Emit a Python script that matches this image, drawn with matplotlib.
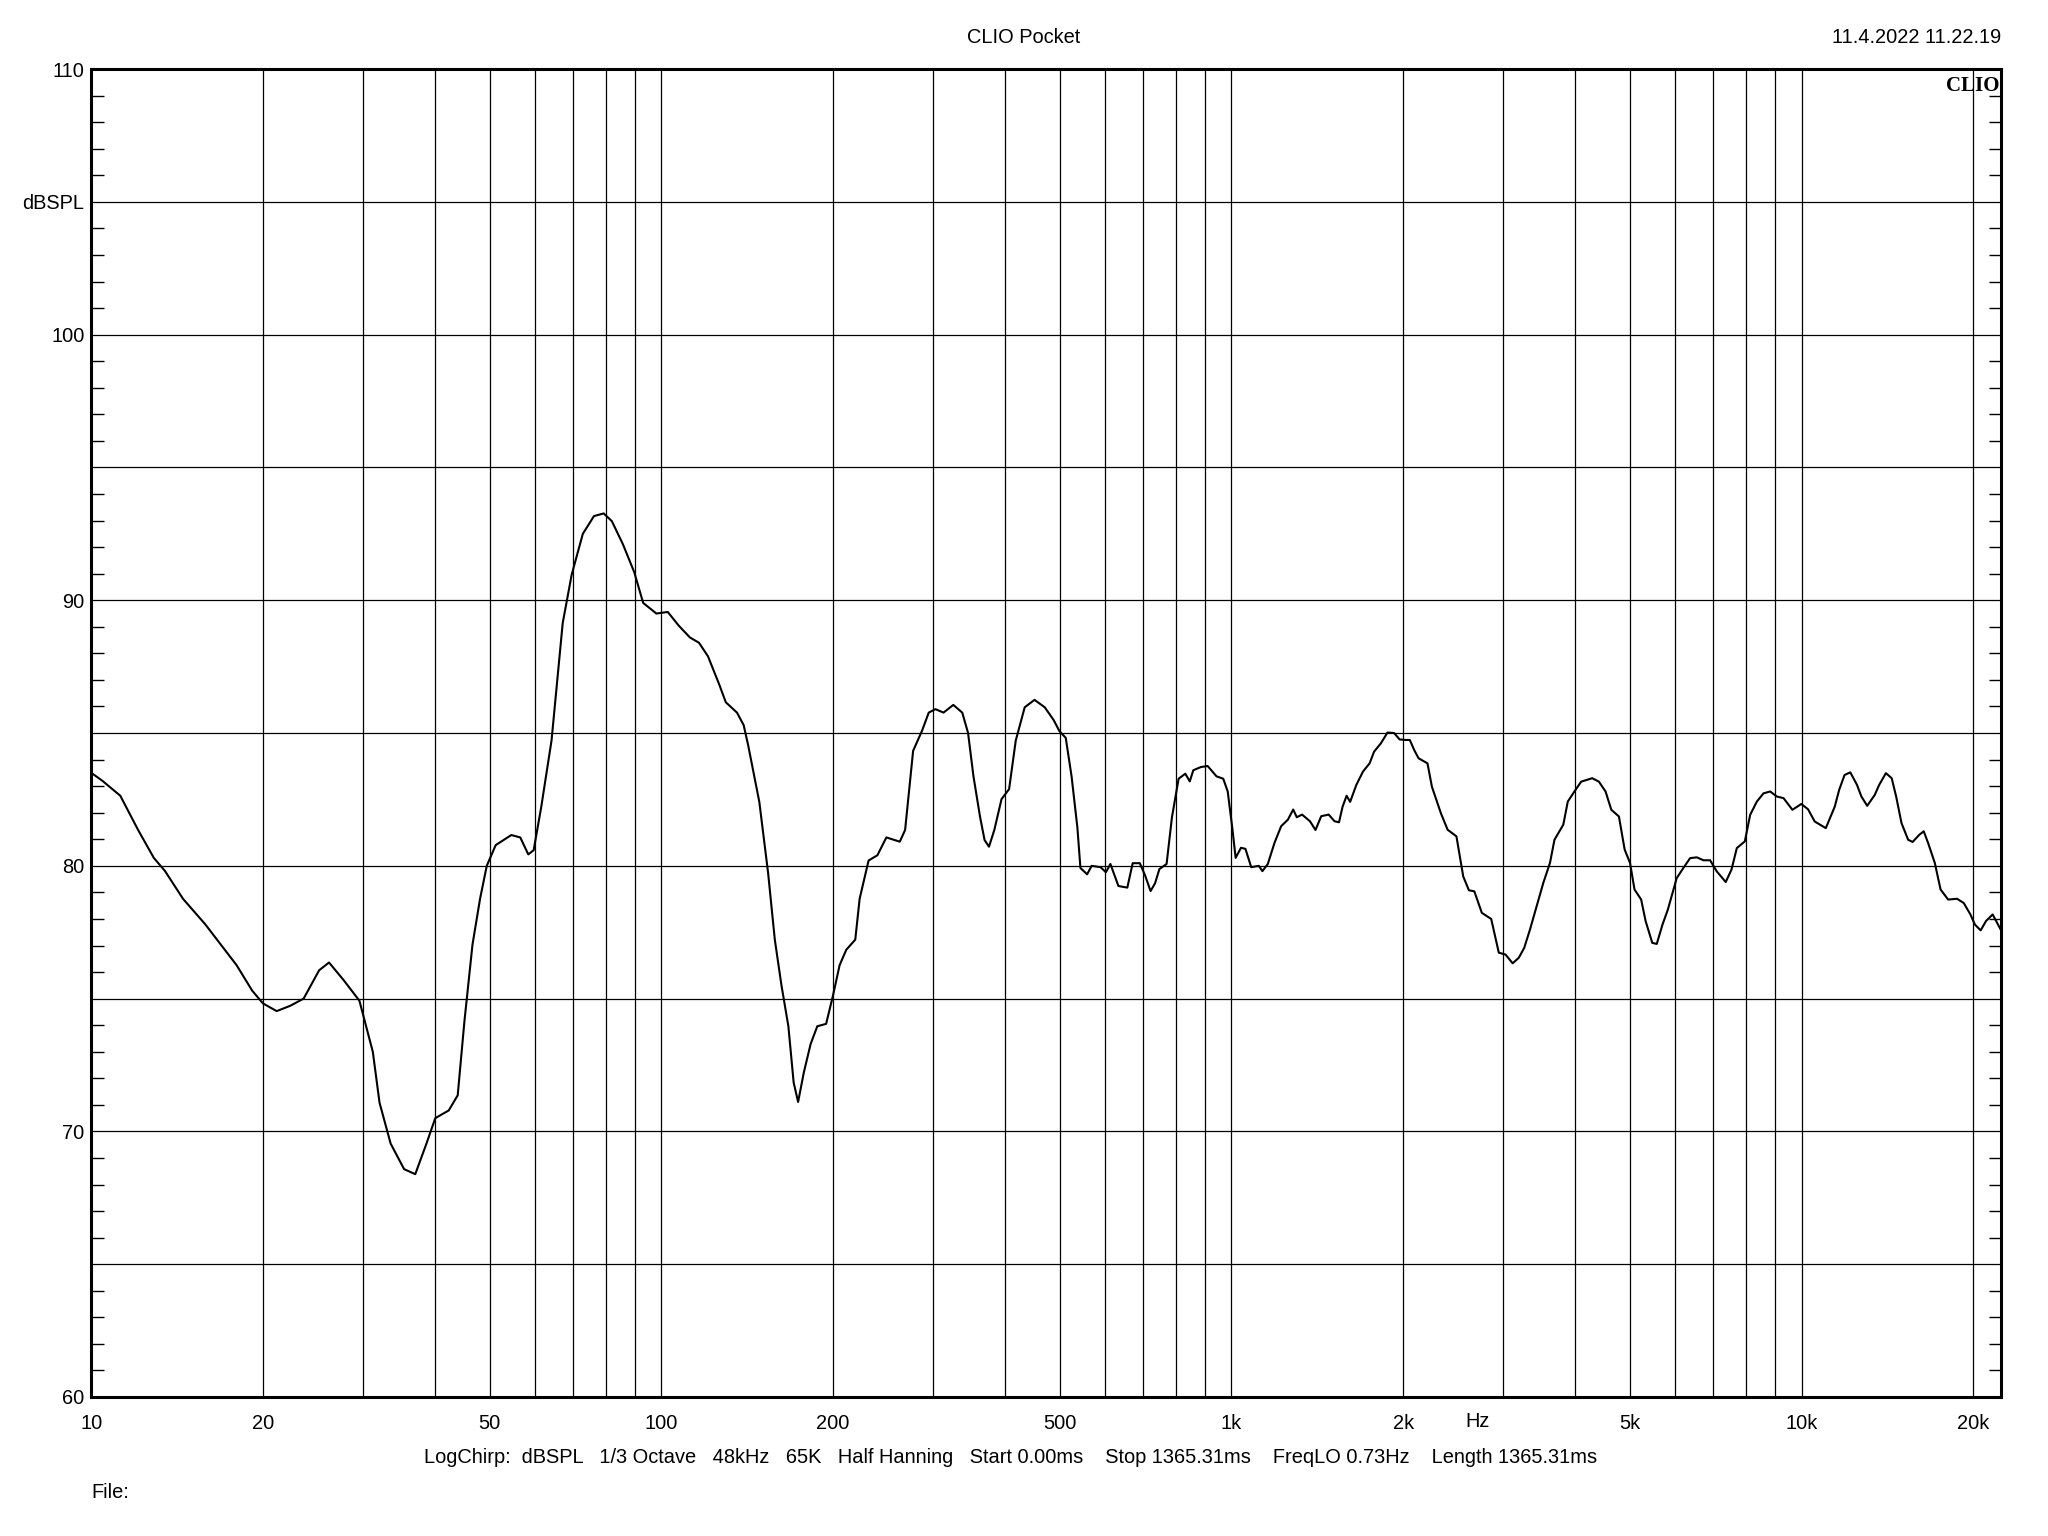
#! /usr/bin/env python

import numpy as np
import matplotlib.pyplot as plt
from matplotlib.ticker import FixedLocator, NullFormatter

freq = [10, 10.46, 11.24, 12.08, 12.87, 13.47, 14.48, 15.84, 16.88, 17.98,
        19.15, 20.0, 21.14, 22.33, 23.57, 25.1, 26.12, 27.72, 29.53, 31.17,
        32.03, 33.5, 35.37, 37.0, 38.71, 40.12, 42.36, 43.92, 45.13, 46.62,
        48.07, 49.39, 51.2, 54.54, 56.55, 58.41, 59.69, 61.55, 64.16, 67.12,
        69.59, 72.8, 76.15, 79.2, 81.85, 85.6, 89.6, 92.9, 98.0, 102.6,
        107.3, 112.2, 116.4, 120.7, 126.3, 129.7, 135.7, 139.4, 142, 148.5,
        153.9, 158.1, 162.4, 167, 170.6, 173.7, 177.8, 182.7, 187.7, 194.5,
        199.9, 205.4, 211, 218.8, 222.7, 230.9, 239.3, 248.1, 261.9, 267.6,
        276.4, 286.7, 294.4, 302.5, 312.5, 325.1, 337.1, 345.1, 352.7, 362.3,
        368.9, 375.5, 383.7, 395, 407.3, 418.4, 433.8, 451.3, 470.4, 487.6,
        499.2, 512, 524.2, 536.6, 543.3, 558.2, 568.4, 589.3, 602.2, 613.2,
        633.4, 656.6, 671, 690.6, 705.7, 721.2, 734.3, 747.5, 769.4, 786.3,
        807.7, 829.8, 845, 857.1, 883.8, 908.1, 941.4, 967.3, 984.9, 1003,
        1017, 1039, 1058, 1083, 1117, 1133, 1158, 1190, 1222, 1256,
        1283, 1302, 1330, 1373, 1404, 1437, 1481, 1516, 1544, 1566,
        1592, 1615, 1656, 1701, 1747, 1779, 1828, 1878, 1929, 1972,
        2018, 2055, 2092, 2129, 2207, 2247, 2330, 2394, 2481, 2550,
        2609, 2667, 2749, 2855, 2944, 3025, 3113, 3192, 3262, 3339,
        3430, 3524, 3620, 3686, 3820, 3890, 3996, 4106, 4294, 4411,
        4531, 4638, 4782, 4895, 5002, 5093, 5232, 5327, 5472, 5572,
        5703, 5827, 6040, 6205, 6375, 6550, 6729, 6912, 7101, 7362,
        7536, 7700, 7952, 8126, 8348, 8576, 8810, 9051, 9298, 9638,
        9991, 10266, 10546, 11030, 11436, 11641, 11896, 12176, 12509, 12735,
        13036, 13440, 13684, 14060, 14393, 14654, 14974, 15383, 15662, 16089,
        16381, 16673, 17130, 17533, 18079, 18741, 19253, 19780, 20140, 20616,
        21063, 21637, 22352]
spl = [83.5, 83.2, 82.64, 81.35, 80.3, 79.8, 78.76, 77.8, 77.03, 76.26,
       75.3, 74.82, 74.53, 74.73, 75.0, 76.07, 76.36, 75.69, 74.92, 73.0,
       71.08, 69.54, 68.58, 68.39, 69.54, 70.5, 70.79, 71.36, 74.15, 77.03,
       78.76, 80.0, 80.78, 81.16, 81.07, 80.43, 80.59, 82.22, 84.72, 89.14,
       90.96, 92.5, 93.17, 93.27, 92.98, 92.11, 91.06, 89.9, 89.5, 89.56,
       89.04, 88.6, 88.4, 87.89, 86.83, 86.16, 85.77, 85.3, 84.53, 82.41,
       79.72, 77.22, 75.5, 73.96, 71.84, 71.11, 72.23, 73.29, 73.96, 74.05,
       75.1, 76.26, 76.84, 77.22, 78.76, 80.2, 80.4, 81.07, 80.91, 81.35,
       84.33, 85.1, 85.77, 85.9, 85.77, 86.06, 85.77, 85.0, 83.37, 81.83,
       80.97, 80.72, 81.35, 82.51, 82.89, 84.72, 85.97, 86.25, 85.97, 85.49,
       85.07, 84.82, 83.37, 81.45, 79.92, 79.68, 80.0, 79.95, 79.76, 80.07,
       79.24, 79.18, 80.1, 80.1, 79.63, 79.05, 79.34, 79.88, 80.07, 81.83,
       83.28, 83.47, 83.18, 83.6, 83.72, 83.76, 83.37, 83.28, 82.8, 81.45,
       80.3, 80.68, 80.64, 79.95, 80.0, 79.8, 80.07, 80.87, 81.49, 81.74,
       82.12, 81.83, 81.93, 81.68, 81.35, 81.87, 81.93, 81.68, 81.64, 82.22,
       82.64, 82.41, 83.05, 83.55, 83.86, 84.3, 84.61, 85.02, 85.0, 84.76,
       84.74, 84.74, 84.36, 84.05, 83.86, 82.98, 81.98, 81.36, 81.11, 79.6,
       79.08, 79.04, 78.23, 78.0, 76.73, 76.66, 76.33, 76.54, 76.91, 77.6,
       78.48, 79.36, 80.11, 80.98, 81.55, 82.42, 82.8, 83.17, 83.3, 83.17,
       82.8, 82.11, 81.86, 80.61, 80.11, 79.11, 78.73, 77.92, 77.1, 77.06,
       77.79, 78.35, 79.54, 79.92, 80.29, 80.32, 80.21, 80.21, 79.79, 79.39,
       79.86, 80.67, 80.92, 81.92, 82.42, 82.73, 82.8, 82.61, 82.55, 82.11,
       82.33, 82.13, 81.67, 81.42, 82.23, 82.86, 83.42, 83.52, 83.05, 82.61,
       82.26, 82.67, 83.05, 83.49, 83.3, 82.61, 81.61, 80.98, 80.9, 81.17,
       81.3, 80.86, 80.11, 79.11, 78.73, 78.76, 78.6, 78.17, 77.79, 77.57,
       77.92, 78.17, 77.6]

# axis ticks
x_major = [10, 20, 50, 100, 200, 500, 1000, 2000, 5000, 10000, 20000]
x_labels = ['10', '20', '50', '100', '200', '500', '1k', '2k', '5k', '10k', '20k']
x_minor = [30, 40, 60, 70, 80, 90, 300, 400, 600, 700, 800, 900,
           3000, 4000, 6000, 7000, 8000, 9000]
y_major = [60, 65, 70, 75, 80, 85, 90, 95, 100, 105, 110]
y_labels = ['60', '', '70', '', '80', '', '90', '', '100', 'dBSPL', '110']

plt.rcParams['font.family'] = ['Liberation Sans', 'DejaVu Sans']
fs = 14.4

fig = plt.figure(figsize=[20.48, 15.36], dpi=100)
ax = fig.add_axes([0.0446, 0.0905, 0.9325, 0.8645])

ax.semilogx(freq, spl, color='black', lw=1.5, zorder=3)

ax.set_xlim(10, 22390)
ax.set_ylim(60, 110)

# x grid (no tick marks, just lines)
ax.set_xticks(x_major)
ax.set_xticklabels(x_labels, fontsize=fs)
ax.xaxis.set_minor_locator(FixedLocator(x_minor))
ax.xaxis.set_minor_formatter(NullFormatter())
ax.tick_params(axis='x', which='both', length=0, pad=12)

# y grid every 5 dB, small inward ticks every 1 dB on both sides
ax.set_yticks(y_major)
ax.set_yticklabels(y_labels, fontsize=fs)
ax.yaxis.set_minor_locator(FixedLocator(np.arange(60, 111, 1)))
ax.tick_params(axis='y', which='major', length=0, pad=5)
ax.tick_params(axis='y', which='minor', direction='in', length=9, width=1.0,
               left=True, right=True)

ax.grid(True, which='major', color='black', lw=0.9)
ax.grid(True, which='minor', axis='x', color='black', lw=0.9)

for s in ax.spines.values():
    s.set_linewidth(2.2)

# header / footer texts
fig.text(0.5, 0.9755, 'CLIO Pocket', ha='center', va='center', fontsize=fs)
fig.text(0.977, 0.9755, '11.4.2022 11.22.19', ha='right', va='center', fontsize=fs)
ax.text(0.999, 0.995, 'CLIO', transform=ax.transAxes, ha='right', va='top',
        fontsize=15, fontweight='bold', family='Liberation Serif', zorder=4)
fig.text(0.7213, 0.0748, 'Hz', ha='center', va='center', fontsize=fs)
fig.text(0.4936, 0.0510,
         'LogChirp:  dBSPL   1/3 Octave   48kHz   65K   Half Hanning   Start 0.00ms    '
         'Stop 1365.31ms    FreqLO 0.73Hz    Length 1365.31ms',
         ha='center', va='center', fontsize=fs)
fig.text(0.0446, 0.0285, 'File:', ha='left', va='center', fontsize=fs)

plt.savefig('out.png', dpi=100)
